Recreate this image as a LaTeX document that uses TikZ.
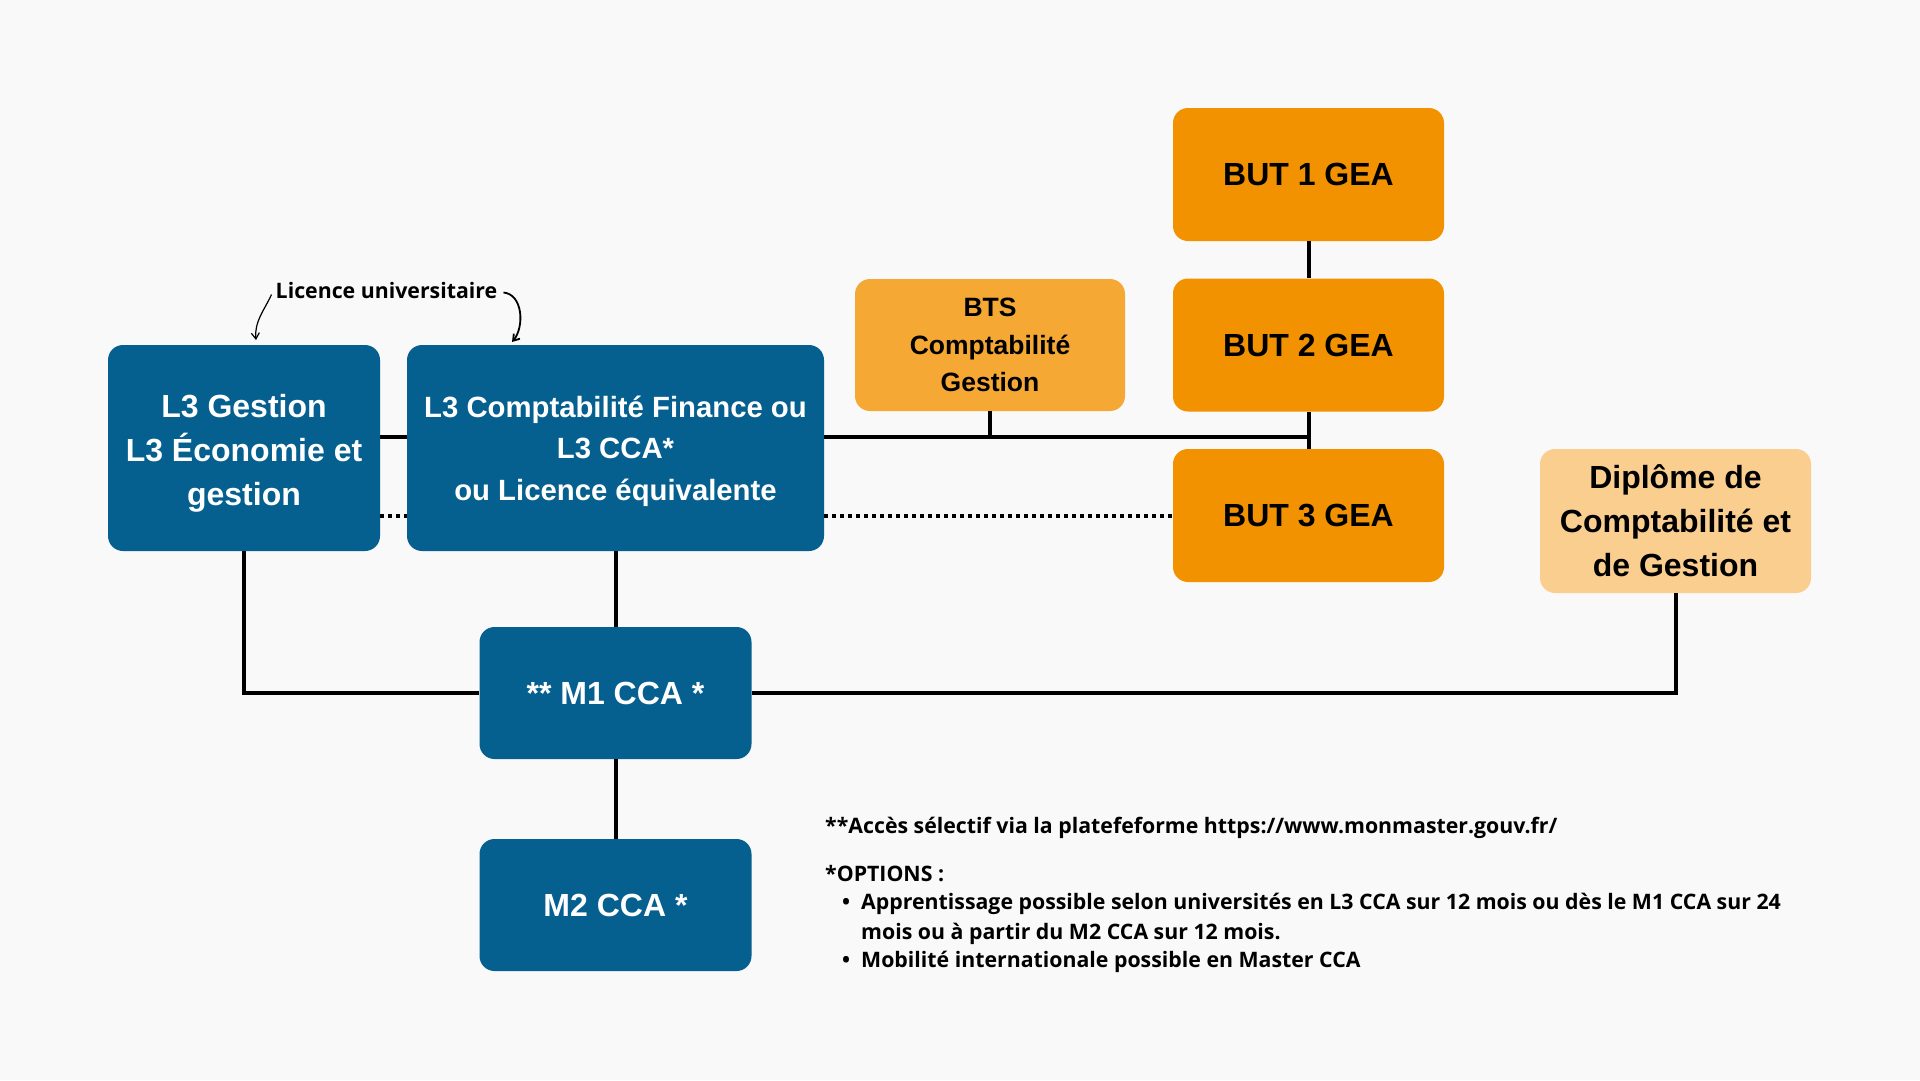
\documentclass[tikz,border=0pt]{standalone}
\usepackage{fontspec}
\setmainfont{Liberation Sans}
\newfontfamily\notefont{Open Sans}
\usetikzlibrary{arrows.meta}
\definecolor{fond}{RGB}{249,249,249}
\definecolor{bleufac}{RGB}{6,96,143}
\definecolor{orangebut}{RGB}{242,146,0}
\definecolor{orangebts}{RGB}{245,168,51}
\definecolor{orangedcg}{RGB}{249,206,143}

\begin{document}
\begin{tikzpicture}[x=1pt,y=-1pt,
  facbox/.style={fill=bleufac,text=white,rounded corners=15pt,align=center,inner sep=0pt,minimum width=272,minimum height=132},
  butbox/.style={fill=orangebut,text=black,rounded corners=15pt,align=center,inner sep=0pt,minimum width=271,minimum height=133,font=\bfseries\fontsize{32}{44}\selectfont},
  link/.style={line width=4pt},
  dotlink/.style={line width=4pt,dash pattern=on 4pt off 4pt},
  fleche/.style={line width=1.2pt,-{Straight Barb[length=6pt,width=8pt]}},
  note/.style={anchor=west,align=left,inner sep=0pt,font=\notefont\bfseries\fontsize{21.3}{29.5}\selectfont}]
\fill[fond] (0,0) rectangle (1920,1080);

\node[facbox,minimum height=206,font=\bfseries\fontsize{32}{44}\selectfont] (l3g) at (244,448) {\rule{0pt}{34pt}L3 Gestion\\L3 Économie et\\gestion};
\node[facbox,minimum width=417,minimum height=206,font=\bfseries\fontsize{29.3}{41.5}\selectfont] (l3cf) at (615.5,448) {\rule{0pt}{28pt}L3 Comptabilité Finance ou\\L3 CCA*\\ou Licence équivalente};
\node[butbox,fill=orangebts,minimum width=270,minimum height=132,font=\bfseries\fontsize{26.5}{37.5}\selectfont] (bts) at (990,345) {BTS\\Comptabilité\\Gestion};
\node[butbox] (but1) at (1308.5,174.5) {BUT 1 GEA};
\node[butbox] (but2) at (1308.5,345) {BUT 2 GEA};
\node[butbox] (but3) at (1308.5,515.5) {BUT 3 GEA};
\node[butbox,fill=orangedcg,minimum height=144] (dcg) at (1675.5,521) {Diplôme de\\Comptabilité et\\de Gestion};
\node[facbox,font=\bfseries\fontsize{32}{44}\selectfont] (m1) at (615.5,693) {** M1 CCA *};
\node[facbox,font=\bfseries\fontsize{32}{44}\selectfont] (m2) at (615.5,905) {M2 CCA *};

\node[inner sep=0pt,font=\notefont\bfseries\fontsize{21.3}{24}\selectfont] (lic) at (386.5,290.5) {Licence universitaire};
\coordinate (licg) at (256,340);
\coordinate (licd) at (512,342);
\draw[fleche] ([xshift=-4pt,yshift=-4pt]lic.west) to[out=245,in=95] (licg);
\draw[fleche,line width=1.8pt] ([xshift=6pt,yshift=-2pt]lic.east) to[out=-5,in=50] (licd);

\coordinate (jbut) at (1308.5,436.5);
\draw[link] (l3g.east |- jbut) -- (l3cf.west |- jbut);
\draw[link] (l3cf.east |- jbut) -- (jbut);
\draw[link] (bts) -- (bts |- jbut);
\draw[link] (but1) -- (but2);
\draw[link] (but2) -- (but3);
\draw[dotlink] (l3g.east |- but3.west) -- (l3cf.west |- but3.west);
\draw[dotlink] (l3cf.east |- but3.west) -- (but3.west);
\draw[link] (l3g) -- (l3g |- m1.west) -- (m1.west);
\draw[link] (m1.east) -- (dcg |- m1.east) -- (dcg);
\draw[link] (l3cf) -- (m1);
\draw[link] (m1) -- (m2);

\node[note] (acces) at (825,828) {**Accès sélectif via la platefeforme https://www.monmaster.gouv.fr/};
\node[note] (options) at (825,874) {*OPTIONS :};
\node[note] (puce1) at (842,904) {•};
\node[note] (opt1) at (861,919) {Apprentissage possible selon universités en L3 CCA sur 12 mois ou dès le M1 CCA sur 24\\mois ou à partir du M2 CCA sur 12 mois.};
\node[note] (puce2) at (842,962) {•};
\node[note] (opt2) at (861,962) {Mobilité internationale possible en Master CCA};
\end{tikzpicture}
\end{document}
